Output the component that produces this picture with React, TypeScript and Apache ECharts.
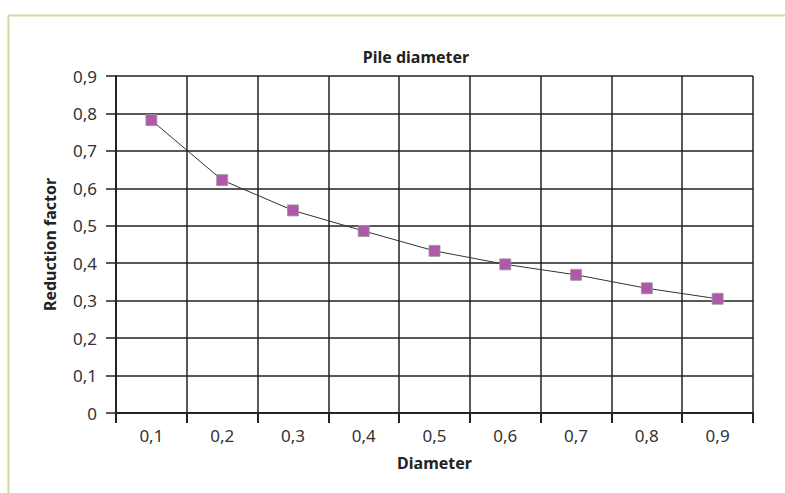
import React, { useEffect, useRef } from "react";
import * as echarts from "echarts";

const categories = ["0,1", "0,2", "0,3", "0,4", "0,5", "0,6", "0,7", "0,8", "0,9"];
const reductionFactor = [0.782, 0.622, 0.541, 0.486, 0.433, 0.397, 0.369, 0.333, 0.305];

const FONT = "Noto Sans";

export default function App() {
  const ref = useRef<HTMLDivElement>(null);
  useEffect(() => {
    if (!ref.current) return;
    const chart = echarts.init(ref.current, undefined, { renderer: "svg" });
    chart.setOption({
      animation: false,
      backgroundColor: "#ffffff",
      title: {
        text: "Pile diameter",
        left: 411,
        top: 44,
        textAlign: "center",
        textStyle: { fontFamily: FONT, fontSize: 16, fontWeight: "bold", color: "#222" },
      },
      graphic: [
        { type: "line", shape: { x1: 8, y1: 15.5, x2: 785, y2: 15.5 }, style: { stroke: "#d3d99b", lineWidth: 2 } },
        { type: "line", shape: { x1: 8.5, y1: 15, x2: 8.5, y2: 493 }, style: { stroke: "#d3d99b", lineWidth: 2 } },
      ],
      grid: { left: 116, top: 76, right: 32, bottom: 80, containLabel: false },
      xAxis: {
        type: "category",
        data: categories,
        boundaryGap: true,
        name: "Diameter",
        nameLocation: "middle",
        nameGap: 42,
        nameTextStyle: { fontFamily: FONT, fontSize: 16, fontWeight: "bold", color: "#222" },
        axisLine: { lineStyle: { color: "#222", width: 2 } },
        axisTick: { show: true, length: 10, lineStyle: { color: "#222", width: 2 } },
        axisLabel: { fontFamily: FONT, fontSize: 17, color: "#333", margin: 14 },
        splitLine: { show: true, lineStyle: { color: "#222", width: 1.5 } },
      },
      yAxis: {
        type: "value",
        min: 0,
        max: 0.9,
        interval: 0.1,
        name: "Reduction factor",
        nameLocation: "middle",
        nameGap: 58,
        nameTextStyle: { fontFamily: FONT, fontSize: 16, fontWeight: "bold", color: "#222" },
        axisLine: { show: true, lineStyle: { color: "#222", width: 2 } },
        axisTick: { show: true, length: 10, lineStyle: { color: "#222", width: 1.5 } },
        axisLabel: {
          fontFamily: FONT,
          fontSize: 17,
          color: "#333",
          margin: 19,
          formatter: (v: number) => (v === 0 ? "0" : v.toFixed(1).replace(".", ",")),
        },
        splitLine: { show: true, lineStyle: { color: "#222", width: 1.5 } },
      },
      series: [
        {
          type: "line",
          data: reductionFactor,
          symbol: "rect",
          symbolSize: 11,
          itemStyle: { color: "#b058a8", borderColor: "#999", borderWidth: 0.8 },
          lineStyle: { color: "#333", width: 1 },
        },
      ],
    });
    return () => chart.dispose();
  }, []);
  return <div ref={ref} style={{ position: "fixed", left: 0, top: 0, width: 785, height: 493 }} />;
}
